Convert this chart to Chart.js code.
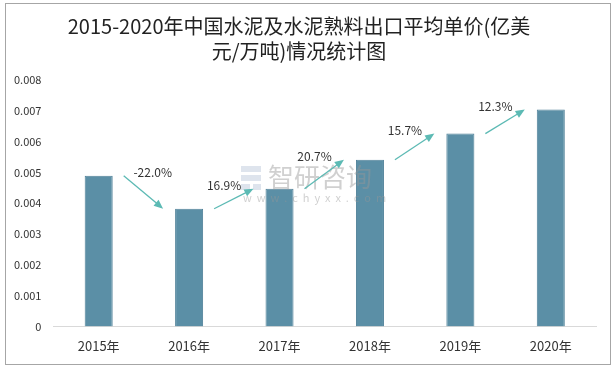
<!DOCTYPE html>
<html>
<head>
<meta charset="utf-8">
<script src="https://cdn.jsdelivr.net/npm/chart.js@4"></script>
<style>
  body { margin: 0; background: #fff; }
  #wrap { width: 616px; height: 369px; }
</style>
</head>
<body>
<div id="wrap"><canvas id="priceChart" width="616" height="369"></canvas></div>
<script>
// 2015-2020 cement & clinker export average unit price
const years = ["2015年", "2016年", "2017年", "2018年", "2019年", "2020年"];
const prices = [0.00489, 0.00382, 0.00447, 0.00541, 0.00626, 0.00704];
const growthLabels = ["-22.0%", "16.9%", "20.7%", "15.7%", "12.3%"];
const yTicks = [0, 0.001, 0.002, 0.003, 0.004, 0.005, 0.006, 0.007, 0.008];

const FONT = "'Noto Sans CJK SC', 'Liberation Sans', sans-serif";

// frame around the whole picture
const framePlugin = {
  id: "frame",
  beforeDraw(chart) {
    const ctx = chart.ctx;
    ctx.save();
    ctx.fillStyle = "#fff";
    ctx.fillRect(0, 0, chart.width, chart.height);
    ctx.strokeStyle = "#a6a6a6";
    ctx.lineWidth = 1;
    ctx.strokeRect(5.5, 3.5, 605, 361);
    ctx.restore();
  }
};

// growth arrows between bars + watermark
const arrowPlugin = {
  id: "arrows",
  afterDatasetsDraw(chart) {
    const ctx = chart.ctx;
    const meta = chart.getDatasetMeta(0);
    const yScale = chart.scales.y;

    // watermark
    ctx.save();
    ctx.fillStyle = "rgba(200,210,225,0.6)";
    ctx.fillRect(241, 166, 20, 6);
    ctx.fillRect(241, 175, 20, 6);
    ctx.fillRect(241, 184, 9, 6);
    ctx.fillRect(253, 184, 8, 6);
    ctx.fillStyle = "rgba(150,150,150,0.45)";
    ctx.font = "26px " + FONT;
    ctx.textBaseline = "middle";
    ctx.fillText("智研咨询", 268, 177);
    ctx.font = "11px " + FONT;
    ctx.fillText("w  w  w  .  c  h  y  x  x  .  c  o  m", 243, 198);
    ctx.restore();

    ctx.save();
    ctx.strokeStyle = "#5cbab4";
    ctx.fillStyle = "#5cbab4";
    ctx.lineWidth = 1.3;
    for (let i = 0; i < prices.length - 1; i++) {
      const x1 = meta.data[i].x + 25;
      const y1 = yScale.getPixelForValue(prices[i]);
      const x2 = meta.data[i + 1].x - 26;
      const y2 = yScale.getPixelForValue(prices[i + 1]);
      const ang = Math.atan2(y2 - y1, x2 - x1);
      const head = 10;
      ctx.beginPath();
      ctx.moveTo(x1, y1);
      ctx.lineTo(x2 - Math.cos(ang) * head * 0.8, y2 - Math.sin(ang) * head * 0.8);
      ctx.stroke();
      ctx.beginPath();
      ctx.moveTo(x2, y2);
      ctx.lineTo(x2 - head * Math.cos(ang - 0.4), y2 - head * Math.sin(ang - 0.4));
      ctx.lineTo(x2 - head * Math.cos(ang + 0.4), y2 - head * Math.sin(ang + 0.4));
      ctx.closePath();
      ctx.fill();

      // label
      ctx.save();
      ctx.fillStyle = "#333";
      ctx.font = "12px " + FONT;
      ctx.textAlign = "center";
      ctx.textBaseline = "middle";
      const lx = y2 > y1 ? x1 + 29 : x1 + 10;
      const ly = Math.min(y1, y2) - 3;
      ctx.fillText(growthLabels[i], lx, ly);
      ctx.restore();
    }
    ctx.restore();
  }
};

const ctx = document.getElementById("priceChart").getContext("2d");
const priceChart = new Chart(ctx, {
  type: "bar",
  data: {
    labels: years,
    datasets: [
      {
        label: "出口平均单价",
        data: prices,
        backgroundColor: "#5b8fa6",
        borderColor: "#4f8098",
        borderWidth: 1,
        barPercentage: 0.62,
        categoryPercentage: 0.5,
      },
    ],
  },
  options: {
    responsive: false,
    animation: false,
    layout: { padding: { left: 2, right: 20, bottom: 3 } },
    plugins: {
      legend: { display: false },
      tooltip: { enabled: false },
      title: {
        display: true,
        text: ["2015-2020年中国水泥及水泥熟料出口平均单价(亿美", "元/万吨)情况统计图"],
        color: "#222",
        font: { family: FONT, size: 20, weight: "normal", lineHeight: 1.25 },
        padding: { top: 14, bottom: 16 },
      },
    },
    scales: {
      x: {
        grid: { display: false, drawTicks: false },
        border: { color: "#d9d9d9", width: 1 },
        ticks: { color: "#333", font: { family: FONT, size: 13 }, padding: 12 },
      },
      y: {
        min: 0,
        max: 0.008,
        afterBuildTicks(axis) {
          axis.ticks = yTicks.map(v => ({ value: v }));
        },
        grid: { display: false, drawTicks: false },
        border: { display: false },
        ticks: {
          color: "#333",
          font: { family: FONT, size: 11 },
          padding: 12,
          callback: v => (v === 0 ? "0" : v.toFixed(3)),
        },
      },
    },
  },
  plugins: [framePlugin, arrowPlugin],
});
</script>
</body>
</html>
